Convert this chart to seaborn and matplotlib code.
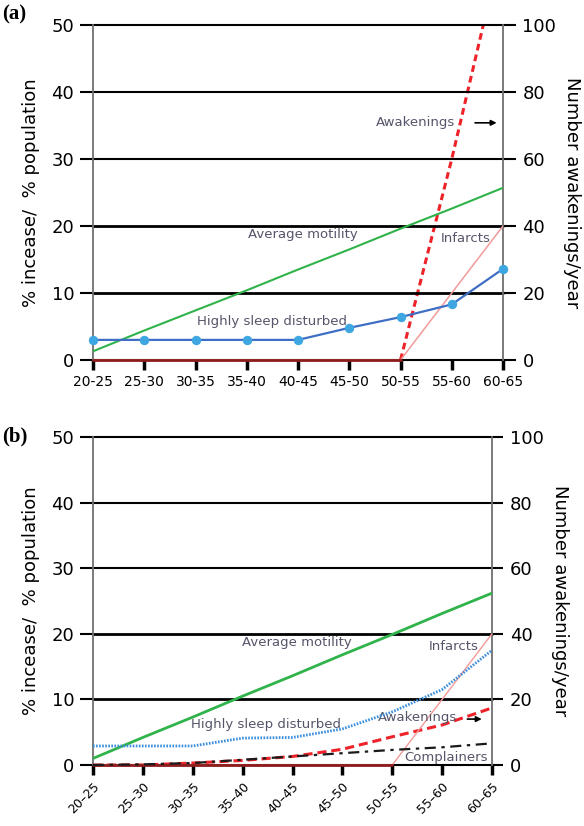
import numpy as np
import pandas as pd
import matplotlib
matplotlib.use('Agg')
import matplotlib.pyplot as plt
import seaborn as sns

sns.set_style('white')
plt.rcParams['font.family'] = ['DejaVu Sans']
plt.rcParams['text.color'] = 'black'
plt.rcParams['axes.labelcolor'] = 'black'
plt.rcParams['xtick.color'] = 'black'
plt.rcParams['ytick.color'] = 'black'

# age groups
ages_a = ['20-25', '25-30', '30-35', '35-40', '40-45', '45-50', '50-55', '55-60', '60-65']
ages_b = ['20–25', '25–30', '30–35', '35–40', '40–45', '45–50', '50–55', '55–60', '60–65']

# panel (a), left axis (%)
motility_a = [1.3, 4.4, 7.4, 10.4, 13.5, 16.5, 19.6, 22.6, 25.7]
sleep_a = [3.0, 3.0, 3.0, 3.0, 3.0, 4.8, 6.4, 8.3, 13.6]
infarcts_a = [0, 0, 0, 0, 0, 0, 0, 10, 20]
# panel (a), right axis (number / year)
awaken_a = [0, 0, 0, 0, 0, 0, 0, 60, 125]

# panel (b), left axis (%)
motility_b = [1.0, 4.2, 7.3, 10.5, 13.6, 16.8, 19.9, 23.1, 26.2]
sleep_b = [2.9, 2.9, 2.9, 4.1, 4.2, 5.5, 8.1, 11.5, 17.5]
infarcts_b = [0, 0, 0, 0, 0, 0, 0, 10, 20]
complain_b = [0, 0.1, 0.3, 0.8, 1.3, 1.8, 2.3, 2.7, 3.3]
# panel (b), right axis
awaken_b = [0, 0, 0.6, 1.4, 2.6, 4.8, 8.6, 12.2, 17.4]
zero_line = [0, 0, 0, 0, 0, 0, 0]

GREEN = '#2fb34a'
RED = '#ee2229'
PINK = '#f29a9a'
DKRED = '#8e1c1c'
TXT = '#55556a'
FS = 9.5


def frame(ax, ax2, ticklen_r):
    ax.set_xlim(0, 8)
    ax.set_ylim(0, 50)
    ax2.set_ylim(0, 100)
    ax.set_yticks(range(0, 51, 10))
    ax2.set_yticks(range(0, 101, 20))
    for y in range(0, 51, 10):
        ax.axhline(y, color='black', lw=2.0 if y in (10, 20) else 1.5, zorder=1, clip_on=False)
    for a in (ax, ax2):
        a.spines['top'].set_visible(False)
        a.spines['bottom'].set_visible(False)
        a.spines['left'].set_color('#7a7a7a')
        a.spines['right'].set_color('#7a7a7a')
        a.spines['left'].set_linewidth(1.2)
        a.spines['right'].set_linewidth(1.2)
        a.set_xlabel('')
        a.set_ylabel('')
    ax.tick_params(axis='y', length=9.5, width=1.5, labelsize=13, pad=4, left=True)
    ax2.tick_params(axis='y', length=ticklen_r, width=1.5, labelsize=13, pad=5, right=True)
    ax.tick_params(axis='x', length=7, width=2.5, bottom=True, direction='out', color='black')
    ax.set_ylabel('% incease/  % population', fontsize=13, labelpad=8)
    ax2.set_ylabel('Number awakenings/year', fontsize=13, rotation=-90, labelpad=18)
    ax.patch.set_visible(False)


fig = plt.figure(figsize=(5.84, 8.26), dpi=100)

# ---------- (a)
axa = fig.add_axes([93 / 584, 1 - 360 / 826, 410 / 584, 335 / 826])
axa2 = axa.twinx()
axa.set_zorder(2)
axa2.set_zorder(1)
dfa = pd.DataFrame({'age': ages_a, 'motility': motility_a, 'sleep': sleep_a,
                    'infarcts': infarcts_a, 'awaken': awaken_a})
x_a = np.arange(len(ages_a))
sns.lineplot(x=x_a, y=dfa['motility'], ax=axa, color=GREEN, lw=1.5, zorder=3)
sns.lineplot(x=x_a, y=dfa['infarcts'], ax=axa, color=PINK, lw=1.1, zorder=3)
sns.lineplot(x=x_a[:7], y=zero_line, ax=axa, color=DKRED, lw=2.0, zorder=4, clip_on=False)
sns.lineplot(x=x_a, y=dfa['sleep'], ax=axa, color='#3f6fc4', lw=1.6, zorder=5,
             marker='o', markersize=6, markerfacecolor='#3ea7e2', markeredgecolor='#3ea7e2',
             clip_on=False)
sns.lineplot(x=x_a[6:], y=dfa['awaken'][6:], ax=axa2, color=RED, lw=2.2, zorder=3)
axa2.lines[-1].set_dashes((2.2, 1.4))
axa.set_xticks(x_a)
axa.set_xticklabels(ages_a, fontsize=10)
frame(axa, axa2, 9)
axa.text(6.3, 35.4, 'Awakenings', fontsize=FS, color=TXT, ha='center', va='center')
axa.annotate('', xy=(7.93, 35.4), xytext=(7.4, 35.4),
             arrowprops=dict(arrowstyle='-|>', color='black', lw=1.2, mutation_scale=8))
axa.text(4.1, 18.7, 'Average motility', fontsize=FS, color=TXT, ha='center', va='center')
axa.text(7.28, 18.2, 'Infarcts', fontsize=FS, color=TXT, ha='center', va='center')
axa.text(3.5, 5.7, 'Highly sleep disturbed', fontsize=FS, color=TXT, ha='center', va='center')
fig.text(0.004, 0.983, '(a)', fontsize=15, fontweight='bold', family='Liberation Serif', va='center')

# ---------- (b)
axb = fig.add_axes([93 / 584, 1 - 765 / 826, 399 / 584, 328 / 826])
axb2 = axb.twinx()
axb.set_zorder(2)
axb2.set_zorder(1)
dfb = pd.DataFrame({'age': ages_b, 'motility': motility_b, 'sleep': sleep_b,
                    'infarcts': infarcts_b, 'complain': complain_b, 'awaken': awaken_b})
x_b = np.arange(len(ages_b))
sns.lineplot(x=x_b, y=dfb['motility'], ax=axb, color=GREEN, lw=2.0, zorder=3)
sns.lineplot(x=x_b, y=dfb['infarcts'], ax=axb, color=PINK, lw=1.0, zorder=3)
sns.lineplot(x=x_b[:7], y=zero_line, ax=axb, color=DKRED, lw=2.0, zorder=4, clip_on=False)
sns.lineplot(x=x_b, y=dfb['sleep'], ax=axb, color='#3d8fdc', lw=2.0, zorder=5)
axb.lines[-1].set_dashes((0.6, 0.5))
sns.lineplot(x=x_b, y=dfb['complain'], ax=axb, color='#1a1a1a', lw=1.6, zorder=5, clip_on=False)
axb.lines[-1].set_dashes((5, 2.5, 1.5, 2.5))
sns.lineplot(x=x_b, y=dfb['awaken'], ax=axb2, color=RED, lw=2.2, zorder=3, clip_on=False)
axb2.lines[-1].set_dashes((3, 1.6))
axb.set_xticks(x_b)
axb.set_xticklabels(ages_b, fontsize=9, rotation=45, ha='right', rotation_mode='anchor')
frame(axb, axb2, 8)
axb.text(4.09, 18.6, 'Average motility', fontsize=FS, color=TXT, ha='center', va='center')
axb.text(7.23, 18.0, 'Infarcts', fontsize=FS, color=TXT, ha='center', va='center')
axb.text(3.47, 6.1, 'Highly sleep disturbed', fontsize=FS, color=TXT, ha='center', va='center')
axb.text(6.5, 7.3, 'Awakenings', fontsize=FS, color=TXT, ha='center', va='center')
axb.annotate('', xy=(7.85, 7.0), xytext=(7.45, 7.0),
             arrowprops=dict(arrowstyle='-|>', color='black', lw=1.2, mutation_scale=8))
axb.text(7.07, 1.1, 'Complainers', fontsize=FS, color=TXT, ha='center', va='center')
fig.text(0.004, 0.472, '(b)', fontsize=15, fontweight='bold', family='Liberation Serif', va='center')

fig.savefig('out.png', dpi=100)
